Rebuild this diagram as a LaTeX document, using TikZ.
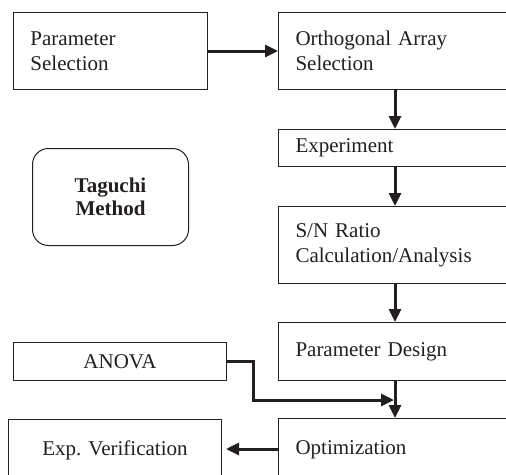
\documentclass[tikz,border=0pt]{standalone}
\usepackage{fontspec}
\setmainfont{Liberation Serif}
\usetikzlibrary{arrows.meta}
\definecolor{ink}{HTML}{231F20}
\frenchspacing
\tikzset{
  box/.style={draw=ink, line width=1pt, rectangle, anchor=north west,
    inner xsep=17pt, inner ysep=0pt, align=left, text=ink,
    font=\fontsize{21}{25}\selectfont},
  cbox/.style={box, align=center},
  flow/.style={draw=ink, line width=3pt,
    -{Triangle[length=13pt,width=12pt]}},
}
\begin{document}
\begin{tikzpicture}[x=1pt, y=-1pt]
\useasboundingbox (0,0) rectangle (506,474);
\clip (0,0) rectangle (506,474);
\fill[white] (0,0) rectangle (506,474);

% left column
\node[box, minimum width=194pt, minimum height=77pt, text width=160pt] (ps) at (13,12) {Parameter\\Selection};
\node[cbox, rounded corners=16pt, minimum width=156pt, minimum height=97pt, text width=122pt,
  font=\fontsize{21}{23}\selectfont\bfseries] (tm) at (32,148) {Taguchi\\Method};
\node[cbox, minimum width=213pt, minimum height=38pt, text width=179pt] (an) at (13,342) {ANOVA};
\node[cbox, minimum width=213pt, minimum height=62pt, text width=179pt] (ev) at (8,419) {Exp.\ Verification};

% right column (runs past the right edge)
\node[box, minimum width=242pt, minimum height=77pt, text width=208pt] (oa) at (278,12) {Orthogonal Array\\Selection};
\node[box, minimum width=242pt, minimum height=37pt, text width=208pt] (ex) at (278,129) {Experiment};
\node[box, minimum width=242pt, minimum height=77pt, text width=208pt] (sn) at (278,206) {S/N Ratio\\Calculation/Analysis};
\node[box, minimum width=242pt, minimum height=58pt, text width=208pt] (pd) at (278,322) {Parameter Design};
\node[box, minimum width=242pt, minimum height=62pt, text width=208pt] (op) at (278,418) {Optimization};

% guide coordinates
\coordinate (sp) at (395,0);
\coordinate (bend) at (253,400);
\coordinate (join) at (394,400);
\coordinate (evtip) at (226,449);

% connectors
\draw[flow] (ps.east) -- (oa.west);
\draw[flow] (oa.south -| sp) -- (ex.north -| sp);
\draw[flow] (ex.south -| sp) -- (sn.north -| sp);
\draw[flow] (sn.south -| sp) -- (pd.north -| sp);
\draw[flow] (pd.south -| sp) -- (op.north -| sp);
\draw[flow] (an.east) -| (bend) -- (join);
\draw[flow] (op.west |- evtip) -- (evtip);
\end{tikzpicture}
\end{document}
